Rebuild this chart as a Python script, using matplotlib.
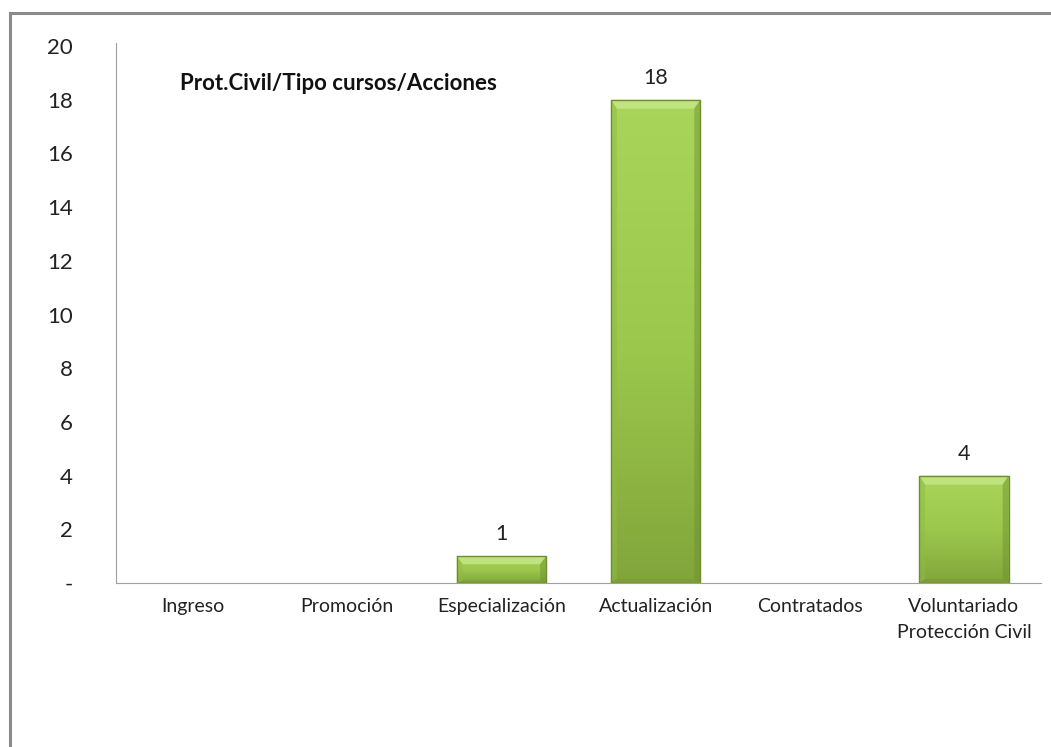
import numpy as np
import matplotlib
matplotlib.use("Agg")
import matplotlib.pyplot as plt
import matplotlib.transforms as mtransforms
from matplotlib.lines import Line2D
from matplotlib.colors import LinearSegmentedColormap

categories = ["Ingreso", "Promoción", "Especialización", "Actualización",
              "Contratados", "Voluntariado\nProtección Civil"]
values = [0, 0, 1, 18, 0, 4]
yticks = [0, 2, 4, 6, 8, 10, 12, 14, 16, 18, 20]
ytick_labels = ["-"] + [str(v) for v in yticks[1:]]
title = "Prot.Civil/Tipo cursos/Acciones"

plt.rcParams['font.family'] = ['Lato', 'DejaVu Sans']

W, H = 1051, 747
fig = plt.figure(figsize=(W / 100, H / 100), dpi=100)
ax = fig.add_axes([116 / W, 1 - 583 / H, (1041 - 116) / W, (583 - 46) / H])

x = np.arange(len(categories))
bw = 0.58
ax.set_xlim(-0.5, len(categories) - 0.5)
ax.set_ylim(0, 20)

px_x = 1.0 / 154.0   # data units per pixel in x
px_y = 20.0 / 537.0  # data units per pixel in y
body_cmap = LinearSegmentedColormap.from_list("v", ["#a9d65a", "#9cc94d", "#82a53b"])

for xi, v in zip(x, values):
    if v <= 0:
        continue
    l, r = xi - bw / 2, xi + bw / 2
    rect = plt.Rectangle((l, 0), bw, v, facecolor="none",
                         edgecolor="#6e8e2f", linewidth=1.0, zorder=4)
    ax.add_patch(rect)
    grad = np.linspace(0, 1, 256).reshape(256, 1)
    img = ax.imshow(grad, cmap=body_cmap, extent=(l, r, 0, v), origin="upper",
                    aspect="auto", zorder=2, interpolation="bicubic")
    img.set_clip_path(rect)
    bx = 6 * px_x
    by = min(9 * px_y, v * 0.3)
    byb = min(4 * px_y, v * 0.1)
    # top bevel
    ax.add_patch(plt.Polygon([(l, v), (r, v), (r - bx, v - by), (l + bx, v - by)],
                             closed=True, facecolor="#c3e584", edgecolor="none",
                             zorder=3, alpha=0.9))
    # left bevel
    ax.add_patch(plt.Polygon([(l, v), (l + bx, v - by), (l + bx, byb), (l, 0)],
                             closed=True, facecolor="#8fbb45", edgecolor="none",
                             zorder=3, alpha=0.5))
    # right bevel
    ax.add_patch(plt.Polygon([(r, v), (r - bx, v - by), (r - bx, byb), (r, 0)],
                             closed=True, facecolor="#6f9232", edgecolor="none",
                             zorder=3, alpha=0.5))
    # bottom bevel
    ax.add_patch(plt.Polygon([(l, 0), (r, 0), (r - bx, byb), (l + bx, byb)],
                             closed=True, facecolor="#6f9232", edgecolor="none",
                             zorder=3, alpha=0.35))
    ax.text(xi, v + 0.45, str(v), ha="center", va="bottom", fontsize=15.5,
            color="#222222", zorder=5)

ax.set_xticks(x)
ax.set_xticklabels(categories, fontsize=14, color="#222222", linespacing=1.65)
ax.set_yticks(yticks)
ax.set_yticklabels(ytick_labels, fontsize=16, color="#222222")
ax.tick_params(axis="both", length=0)
ax.tick_params(axis="y", pad=31)
ax.tick_params(axis="x", pad=10.5)
for s in ["top", "right"]:
    ax.spines[s].set_visible(False)
ax.spines["left"].set_color("#a0a0a0")
ax.spines["bottom"].set_color("#a0a0a0")
ax.spines["left"].set_bounds(0, 20.1)

pix_from_top = mtransforms.Affine2D().scale(1, -1).translate(0, H)
ax.text(180, 83, title, transform=pix_from_top, fontsize=16, fontweight="bold",
        ha="left", va="center", color="#111111")

# outer chart border (top and left visible)
fig.add_artist(Line2D([10 / W, 10 / W], [0, 1 - 13 / H], color="#8a8a8a", lw=2.2))
fig.add_artist(Line2D([10 / W, 1], [1 - 13 / H, 1 - 13 / H], color="#8a8a8a", lw=2.2))

fig.savefig("out.png", dpi=100)
